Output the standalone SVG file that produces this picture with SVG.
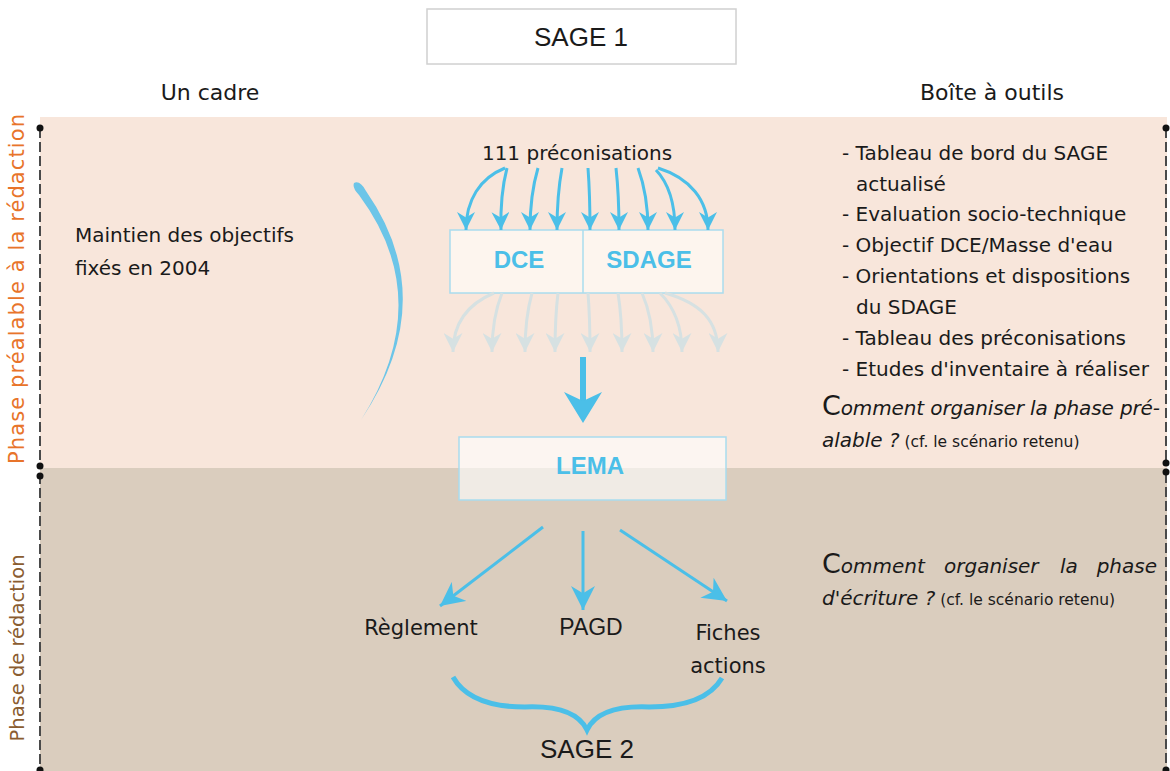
<svg xmlns="http://www.w3.org/2000/svg" width="1170" height="771" viewBox="0 0 1170 771">
<defs>
<style>
text{font-family:"DejaVu Sans","Liberation Sans",sans-serif;fill:#1a1a1a}
.t20{font-size:20px}
.t22{font-size:22px}
.caps{font-family:"Liberation Sans",Arial,sans-serif}
.blue{font-family:"Liberation Sans",Arial,sans-serif;fill:#4BBFE8;font-weight:bold;font-size:24px}
.it{font-style:italic}
.small{font-size:15.5px;font-style:normal}
.arr{fill:none;stroke:#4BBFE8;stroke-width:3}
.fade{fill:none;stroke:#D6E1E2;stroke-width:3}
.dash{stroke:#4a4a4a;stroke-width:2;stroke-dasharray:10 4}
</style>
<marker id="ah" viewBox="0 0 20 20" refX="20" refY="10" markerWidth="18" markerHeight="18" markerUnits="userSpaceOnUse" orient="auto">
<path d="M0,0 L20,10 L0,20 L6,10 z" fill="#4BBFE8"/>
</marker>
<marker id="ahf" viewBox="0 0 20 20" refX="20" refY="10" markerWidth="19" markerHeight="19" markerUnits="userSpaceOnUse" orient="auto">
<path d="M0,0 L20,10 L0,20 L6,10 z" fill="#D6E1E2"/>
</marker>
<marker id="ahb" viewBox="0 0 20 20" refX="20" refY="10" markerWidth="24" markerHeight="24" markerUnits="userSpaceOnUse" orient="auto">
<path d="M0,0 L20,10 L0,20 L6,10 z" fill="#4BBFE8"/>
</marker>
</defs>
<rect width="1170" height="771" fill="#ffffff"/>
<g id="bands">
<rect x="40" y="117" width="1127" height="351" fill="#F8E6DB"/>
<rect x="40" y="468" width="1127" height="303" fill="#DACDBE"/>
<line class="dash" x1="40" y1="128" x2="40" y2="465"/>
<line class="dash" x1="40" y1="474" x2="40" y2="771"/>
<line class="dash" x1="1166" y1="128" x2="1166" y2="464"/>
<line class="dash" x1="1166" y1="473" x2="1166" y2="771"/>
<g fill="#111">
<circle cx="40" cy="128" r="3.5"/><circle cx="40" cy="466" r="3.5"/><circle cx="40" cy="476" r="3.5"/><circle cx="40" cy="770" r="3.5"/>
<circle cx="1166" cy="128" r="3.5"/><circle cx="1166" cy="463" r="3.5"/><circle cx="1166" cy="472" r="3.5"/><circle cx="1166" cy="770" r="3.5"/>
</g>
<text x="18" y="289" transform="rotate(-90 18 289)" text-anchor="middle" dominant-baseline="middle" textLength="350" style="font-size:21px;fill:#E8742A">Phase préalable à la rédaction</text>
<text x="18" y="648" transform="rotate(-90 18 648)" text-anchor="middle" dominant-baseline="middle" style="font-size:19.5px;fill:#8A5C30">Phase de rédaction</text>
</g>
<g id="title">
<rect x="427" y="9" width="309" height="55" fill="#fff" stroke="#d0d0d0" stroke-width="1.5"/>
<text x="581" y="46" text-anchor="middle" class="caps" style="font-size:26px">SAGE 1</text>
</g>
<text x="210" y="100" text-anchor="middle" class="t22">Un cadre</text>
<text x="992" y="100" text-anchor="middle" class="t22">Boîte à outils</text>
<g id="cadre">
<text x="75" y="242" class="t20">Maintien des objectifs</text>
<text x="75" y="275" class="t20">fixés en 2004</text>
<path d="M354,183 Q360,180 366,191 Q442,300 361,420 Q437,300 359,195 Q352,188 354,183 z" fill="#6CC5E8"/>
</g>
<g id="preco">
<text x="577" y="160" text-anchor="middle" class="t20">111 préconisations</text>
</g>
<g id="dce-sdage">
<rect x="450" y="230" width="273" height="63" fill="#FDF5EE" stroke="#A9DCEE" stroke-width="1.5"/>
<line x1="583" y1="230" x2="583" y2="293" stroke="#A9DCEE" stroke-width="1.5"/>
<text x="519" y="268" text-anchor="middle" class="blue">DCE</text>
<text x="649" y="268" text-anchor="middle" class="blue">SDAGE</text>
</g>
<g id="lema">
<rect x="459" y="437" width="267" height="63" fill="#FFFFFF" fill-opacity="0.6" stroke="#A9DCEE" stroke-width="1.5"/>
<text x="590" y="474" text-anchor="middle" class="blue">LEMA</text>
</g>
<g id="outputs">
<text x="421" y="635" text-anchor="middle" style="font-size:21px">Règlement</text>
<text x="591" y="635" text-anchor="middle" class="caps" style="font-size:23px">PAGD</text>
<text x="728" y="640" text-anchor="middle" style="font-size:21px">Fiches</text>
<text x="728" y="673" text-anchor="middle" style="font-size:21px">actions</text>
<path d="M453,677 Q470,707 525,707 Q575,705 587,730 Q599,705 649,707 Q705,707 722,678" fill="none" stroke="#4BBFE8" stroke-width="5"/>
<text x="587" y="758" text-anchor="middle" class="caps" style="font-size:26px">SAGE 2</text>
</g>
<g id="boite">
<text class="t20" x="842" y="160">- Tableau de bord du SAGE</text>
<text class="t20" x="856" y="191">actualisé</text>
<text class="t20" x="842" y="221">- Evaluation socio-technique</text>
<text class="t20" x="842" y="252">- Objectif DCE/Masse d'eau</text>
<text class="t20" x="842" y="283">- Orientations et dispositions</text>
<text class="t20" x="856" y="314">du SDAGE</text>
<text class="t20" x="842" y="345">- Tableau des préconisations</text>
<text class="t20" x="842" y="376">- Etudes d'inventaire à réaliser</text>
<text x="822" y="415" class="t20" textLength="338"><tspan style="font-size:27px">C</tspan><tspan class="it">omment organiser la phase pré-</tspan></text>
<text x="822" y="447" class="t20"><tspan class="it">alable ?</tspan><tspan class="small"> (cf. le scénario retenu)</tspan></text>
<text x="822" y="573" class="t20"><tspan style="font-size:27px">C</tspan><tspan class="it">omment</tspan></text>
<text x="944" y="573" class="t20 it">organiser</text>
<text x="1060" y="573" class="t20 it">la</text>
<text x="1157" y="573" class="t20 it" text-anchor="end">phase</text>
<text x="822" y="605" class="t20"><tspan class="it">d'écriture ?</tspan><tspan class="small"> (cf. le scénario retenu)</tspan></text>
</g>
<g id="connectors">
<path class="arr" marker-end="url(#ah)" d="M505,168 C480,178 466,200 466,230"/>
<path class="arr" marker-end="url(#ah)" d="M507,168 Q500,195 501,230"/>
<path class="arr" marker-end="url(#ah)" d="M538,168 Q530,195 530,230"/>
<path class="arr" marker-end="url(#ah)" d="M562,168 Q557,195 557,230"/>
<path class="arr" marker-end="url(#ah)" d="M588,168 Q590,195 590,230"/>
<path class="arr" marker-end="url(#ah)" d="M616,168 Q619,195 619,230"/>
<path class="arr" marker-end="url(#ah)" d="M638,168 Q648,195 648,230"/>
<path class="arr" marker-end="url(#ah)" d="M656,170 Q675,190 675,230"/>
<path class="arr" marker-end="url(#ah)" d="M658,168 C690,178 708,200 708,230"/>
<path class="fade" marker-end="url(#ahf)" d="M494,293 C470,303 453,320 453,352"/>
<path class="fade" marker-end="url(#ahf)" d="M502,293 Q492,318 492,352"/>
<path class="fade" marker-end="url(#ahf)" d="M532,293 Q525,318 525,352"/>
<path class="fade" marker-end="url(#ahf)" d="M558,293 Q555,318 555,352"/>
<path class="fade" marker-end="url(#ahf)" d="M588,293 Q590,318 590,352"/>
<path class="fade" marker-end="url(#ahf)" d="M618,293 Q622,318 622,352"/>
<path class="fade" marker-end="url(#ahf)" d="M642,293 Q653,318 653,352"/>
<path class="fade" marker-end="url(#ahf)" d="M660,293 Q682,315 682,352"/>
<path class="fade" marker-end="url(#ahf)" d="M665,293 C700,303 718,320 718,352"/>
<line x1="583" y1="357" x2="583" y2="402" stroke="#4BBFE8" stroke-width="6"/>
<polygon points="564,392 583,423 602,392 583,401" fill="#4BBFE8"/>
<line class="arr" marker-end="url(#ahb)" x1="543" y1="527" x2="440" y2="606"/>
<line class="arr" marker-end="url(#ahb)" x1="583" y1="531" x2="583" y2="610"/>
<line class="arr" marker-end="url(#ahb)" x1="620" y1="530" x2="727" y2="601"/>
</g>
</svg>
